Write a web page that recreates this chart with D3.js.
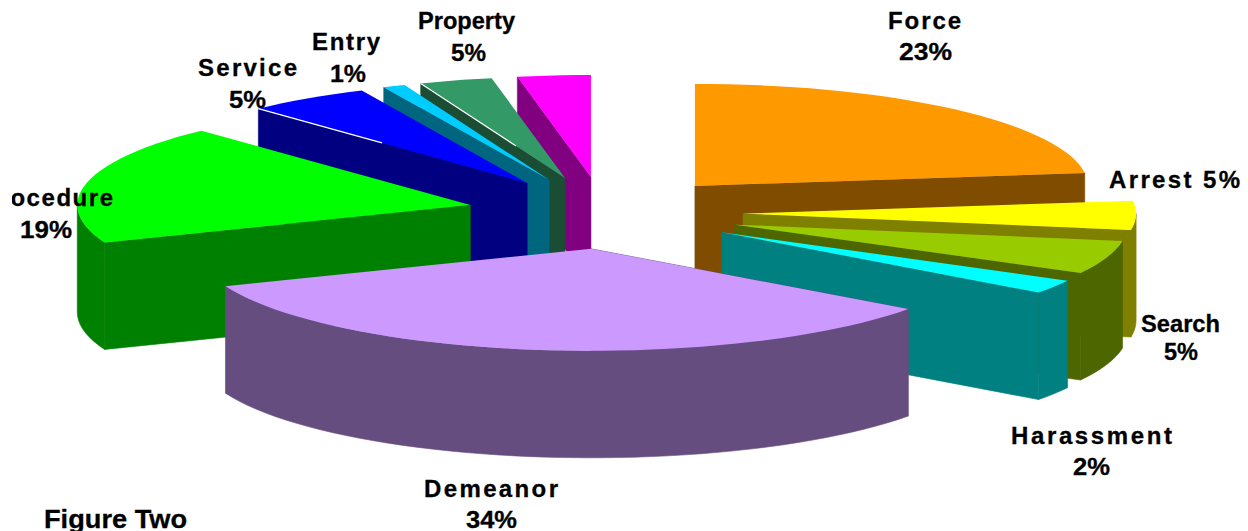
<!DOCTYPE html>
<html>
<head>
<meta charset="utf-8">
<script src="https://cdn.jsdelivr.net/npm/d3@7/dist/d3.min.js"></script>
<style>
html,body{margin:0;padding:0;background:#fff;overflow:hidden}
svg{display:block}
text{font-family:"Liberation Sans",Arial,sans-serif;font-weight:700;fill:#000;stroke:#000;stroke-width:0.3}
</style>
</head>
<body>
<svg id="chart" width="1248" height="531"></svg>
<script>
// ---- data ----
const categories = ["Force","Arrest","Search","Harassment","Demeanor","Procedure","Service","Entry","Property","Other"];
const sliceValues = [23,4.6,5.3,2.2,34,19,5.08,0.92,3,3];
const percentLabels = ["23%","5%","5%","2%","34%","19%","5%","1%","5%",""];
const topColors = ["#FF9900","#FFFF00","#99CC00","#00FFFF","#CC99FF","#00FF00","#0000FF","#00CCFF","#339966","#FF00FF"];
const sideColors = ["#804D00","#808000","#4D6600","#008080","#664D80","#008000","#000080","#006680","#1A4D33","#800080"];
const caption = "Figure Two";

// ---- layout ----
const W = 1248, H = 531;
const centerX = 604, centerY = 213, radiusX = 393, radiusY = 102, depth = 107;
const explosion = 0.354;
const anchorNudge = [-1,0,-1,0,5,2,1,0,0,0];
const paintOrder = [0,1,2,3,9,8,7,6,5,4];
const seamFraction = {6:0.46, 8:0.66};
// [name x0, name x1, name baseline, pct x0, pct x1, pct baseline, name size, name adjust]
const labelBoxes = [
 [888,961,29, 899,952,60, 24,"spacing"],
 [1109,1240,188, 0,0,0, 24,"spacing"],
 [1141,1220,332, 1164,1198,360, 23,"spacingAndGlyphs"],
 [1011,1172,444, 1073,1110,475, 24,"spacing"],
 [424,558,497, 466,517,528, 24,"spacing"],
 [-18,113,206, 20,72,238, 24,"spacing"],
 [198,297,76, 229,266,108, 24,"spacing"],
 [312,380,50, 330,366,82, 24,"spacing"],
 [418,515,29, 451,486,61, 23.5,"spacingAndGlyphs"],
 null
];
const captionBox = [44,187,528];

const svg = d3.select("#chart");
const unitX = d3.scaleLinear().domain([-1,1]).range([-radiusX,radiusX]);
const unitY = d3.scaleLinear().domain([-1,1]).range([-radiusY,radiusY]);
const arcs = d3.pie().sort(null).value(d=>d)(sliceValues);
const line = d3.line();

function rim(cx,cy,a){ return [cx+unitX(Math.sin(a)), cy-unitY(Math.cos(a))]; }
function arcPoints(cx,cy,a0,a1){
  const n = Math.max(1,Math.ceil((a1-a0)/(Math.PI/72)));
  return d3.range(n+1).map(k=>rim(cx,cy,a0+(a1-a0)*k/n));
}
const down = p=>[p[0],p[1]+depth];

const g = svg.append("g");
paintOrder.forEach(i=>{
  const d = arcs[i];
  const mid = (d.startAngle+d.endAngle)/2;
  const cx = centerX + explosion*unitX(Math.sin(mid)) + anchorNudge[i];
  const cy = centerY - explosion*unitY(Math.cos(mid));
  const apex = [cx,cy];
  const side = p=>g.append("path").attr("d",p).attr("fill",sideColors[i])
    .attr("stroke",sideColors[i]).attr("stroke-width",0.6);
  // radial face that looks toward the viewer
  const faceAngle = mid < Math.PI ? d.endAngle : d.startAngle;
  const r = rim(cx,cy,faceAngle);
  side(line([apex,r,down(r),down(apex)])+"Z");
  // outer wall: only the part of the rim in the front half
  const a0 = Math.max(d.startAngle,Math.PI/2), a1 = Math.min(d.endAngle,3*Math.PI/2);
  if(a1>a0){
    const pts = arcPoints(cx,cy,a0,a1);
    side(line(pts.concat(pts.map(down).reverse()))+"Z");
  }
  // top
  g.append("path").attr("d", line([apex].concat(arcPoints(cx,cy,d.startAngle,d.endAngle)))+"Z").attr("fill",topColors[i]);
  if(seamFraction[i]){
    const s = rim(cx,cy,d.startAngle), f = seamFraction[i];
    g.append("path").attr("d", line([s,[s[0]+(cx-s[0])*f, s[1]+(cy-s[1])*f]]))
      .attr("stroke","#fff").attr("stroke-width",1.2).attr("fill","none");
  }
});

// labels
svg.append("clipPath").attr("id","leftClip").append("rect").attr("x",12).attr("y",0).attr("width",W).attr("height",H);
const labels = svg.append("g").attr("clip-path","url(#leftClip)");
function put(str,x0,x1,y,size,adjust){
  labels.append("text").text(str).attr("x",x0).attr("y",y)
    .attr("font-size",size)
    .attr("textLength",x1-x0).attr("lengthAdjust",adjust);
}
categories.forEach((c,i)=>{
  const b = labelBoxes[i];
  if(!b) return;
  if(c==="Arrest"){ put(c+" "+percentLabels[i],b[0],b[1],b[2],b[6],b[7]); return; }
  put(c,b[0],b[1],b[2],b[6],b[7]);
  put(percentLabels[i],b[3],b[4],b[5],24,"spacingAndGlyphs");
});
put(caption,captionBox[0],captionBox[1],captionBox[2],26,"spacingAndGlyphs");
</script>
</body>
</html>
